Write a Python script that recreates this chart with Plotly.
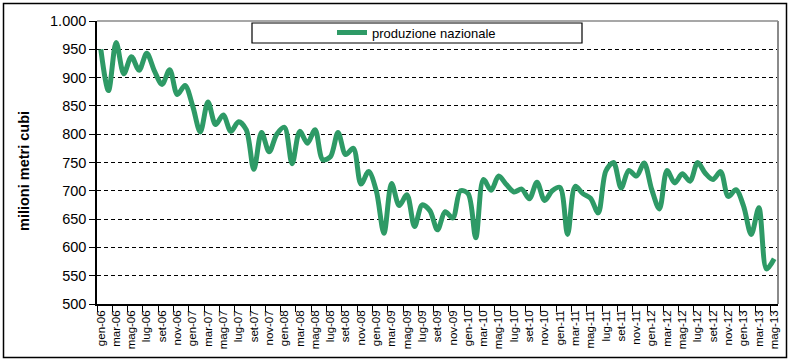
import plotly.graph_objects as go

MESI = ["gen", "feb", "mar", "apr", "mag", "giu", "lug", "ago", "set", "ott", "nov", "dic"]
ANNI = ["06", "07", "08", "09", "10", "11", "12", "13"]
categorie = [f"{m}-{a}" for a in ANNI for m in MESI][:89]  # gen-06 ... mag-13

produzione_nazionale = [
    950, 877, 962, 907, 937, 913, 943, 912, 888, 914, 870, 886,
    850, 804, 857, 817, 834, 805, 822, 808, 738, 803, 769, 800,
    812, 748, 805, 784, 808, 755, 760, 803, 764, 775, 712, 734,
    700, 625, 713, 674, 693, 637, 675, 665, 631, 663, 652, 700,
    695, 617, 720, 701, 726, 711, 698, 703, 686, 715, 683, 700,
    706, 623, 708, 695, 687, 661, 735, 750, 705, 736, 726, 749,
    702, 668, 736, 714, 730, 717, 750, 731, 720, 734, 690, 702,
    673, 623, 670, 562, 580,
]

y_ticks = [500, 550, 600, 650, 700, 750, 800, 850, 900, 950, 1000]

W, H = 790, 363
L, R, T, B = 97, 12, 21, 59
pw, ph = W - L - R, H - T - B


def px_x(px):
    return (px - L) / pw


def px_y(py):
    return (H - B - py) / ph


fig = go.Figure()
fig.add_trace(go.Scatter(
    x=categorie, y=produzione_nazionale, mode="lines",
    name="produzione nazionale",
    line=dict(color="#2e9a66", width=5, shape="spline", smoothing=0.9),
))

font_family = "Liberation Sans, Arial, sans-serif"

fig.update_layout(
    width=W, height=H, autosize=False,
    margin=dict(l=L, r=R, t=T, b=B, autoexpand=False),
    paper_bgcolor="white", plot_bgcolor="white",
    separators=",.",
    font=dict(family=font_family, color="black"),
    showlegend=True,
    legend=dict(
        x=px_x(332), y=px_y(32.5), xanchor="left", yanchor="middle",
        bgcolor="rgba(0,0,0,0)", borderwidth=0,
        font=dict(size=13, family=font_family, color="black"),
    ),
    xaxis=dict(
        type="category", range=[-0.5, 88.5],
        tickmode="linear", tick0=0, dtick=2,
        tickson="boundaries",
        ticks="outside", ticklen=6, tickcolor="black", tickwidth=1,
        tickangle=-90, tickfont=dict(size=11.5),
        showline=True, linecolor="black", linewidth=1.5,
        showgrid=False, zeroline=False,
    ),
    yaxis=dict(
        range=[500, 1000], tickvals=y_ticks, tickformat=",d",
        ticks="outside", ticklen=6, tickcolor="black",
        tickfont=dict(size=14.5),
        showline=True, linecolor="black", linewidth=1.5,
        showgrid=True, gridcolor="black", gridwidth=1, griddash="4px,3px",
        zeroline=False,
    ),
    annotations=[dict(
        text="<b>milioni metri cubi</b>", textangle=-90,
        xref="paper", yref="paper", x=px_x(24), y=0.47,
        xanchor="center", yanchor="middle", showarrow=False,
        font=dict(size=14.5, family=font_family, color="black"),
    )],
    shapes=[
        # legend frame
        dict(type="rect", xref="paper", yref="paper",
             x0=px_x(252), x1=px_x(582), y0=px_y(43), y1=px_y(23),
             line=dict(color="black", width=1.2), fillcolor="white", layer="above"),
        # plot area top and right border
        dict(type="line", xref="paper", yref="paper", x0=0, x1=1, y0=1, y1=1,
             line=dict(color="#8a8a8a", width=1.5)),
        dict(type="line", xref="paper", yref="paper", x0=1, x1=1, y0=0, y1=1,
             line=dict(color="#8a8a8a", width=2)),
        # outer chart frame
        dict(type="rect", xref="paper", yref="paper",
             x0=px_x(3.5), x1=px_x(786.5), y0=px_y(357.5), y1=px_y(3.5),
             line=dict(color="black", width=1.5), fillcolor="rgba(0,0,0,0)"),
    ],
)

fig.write_html(
    "out.html",
    config={"displayModeBar": False},
    post_script="document.body.style.margin='0';document.body.style.overflow='hidden';",
)
